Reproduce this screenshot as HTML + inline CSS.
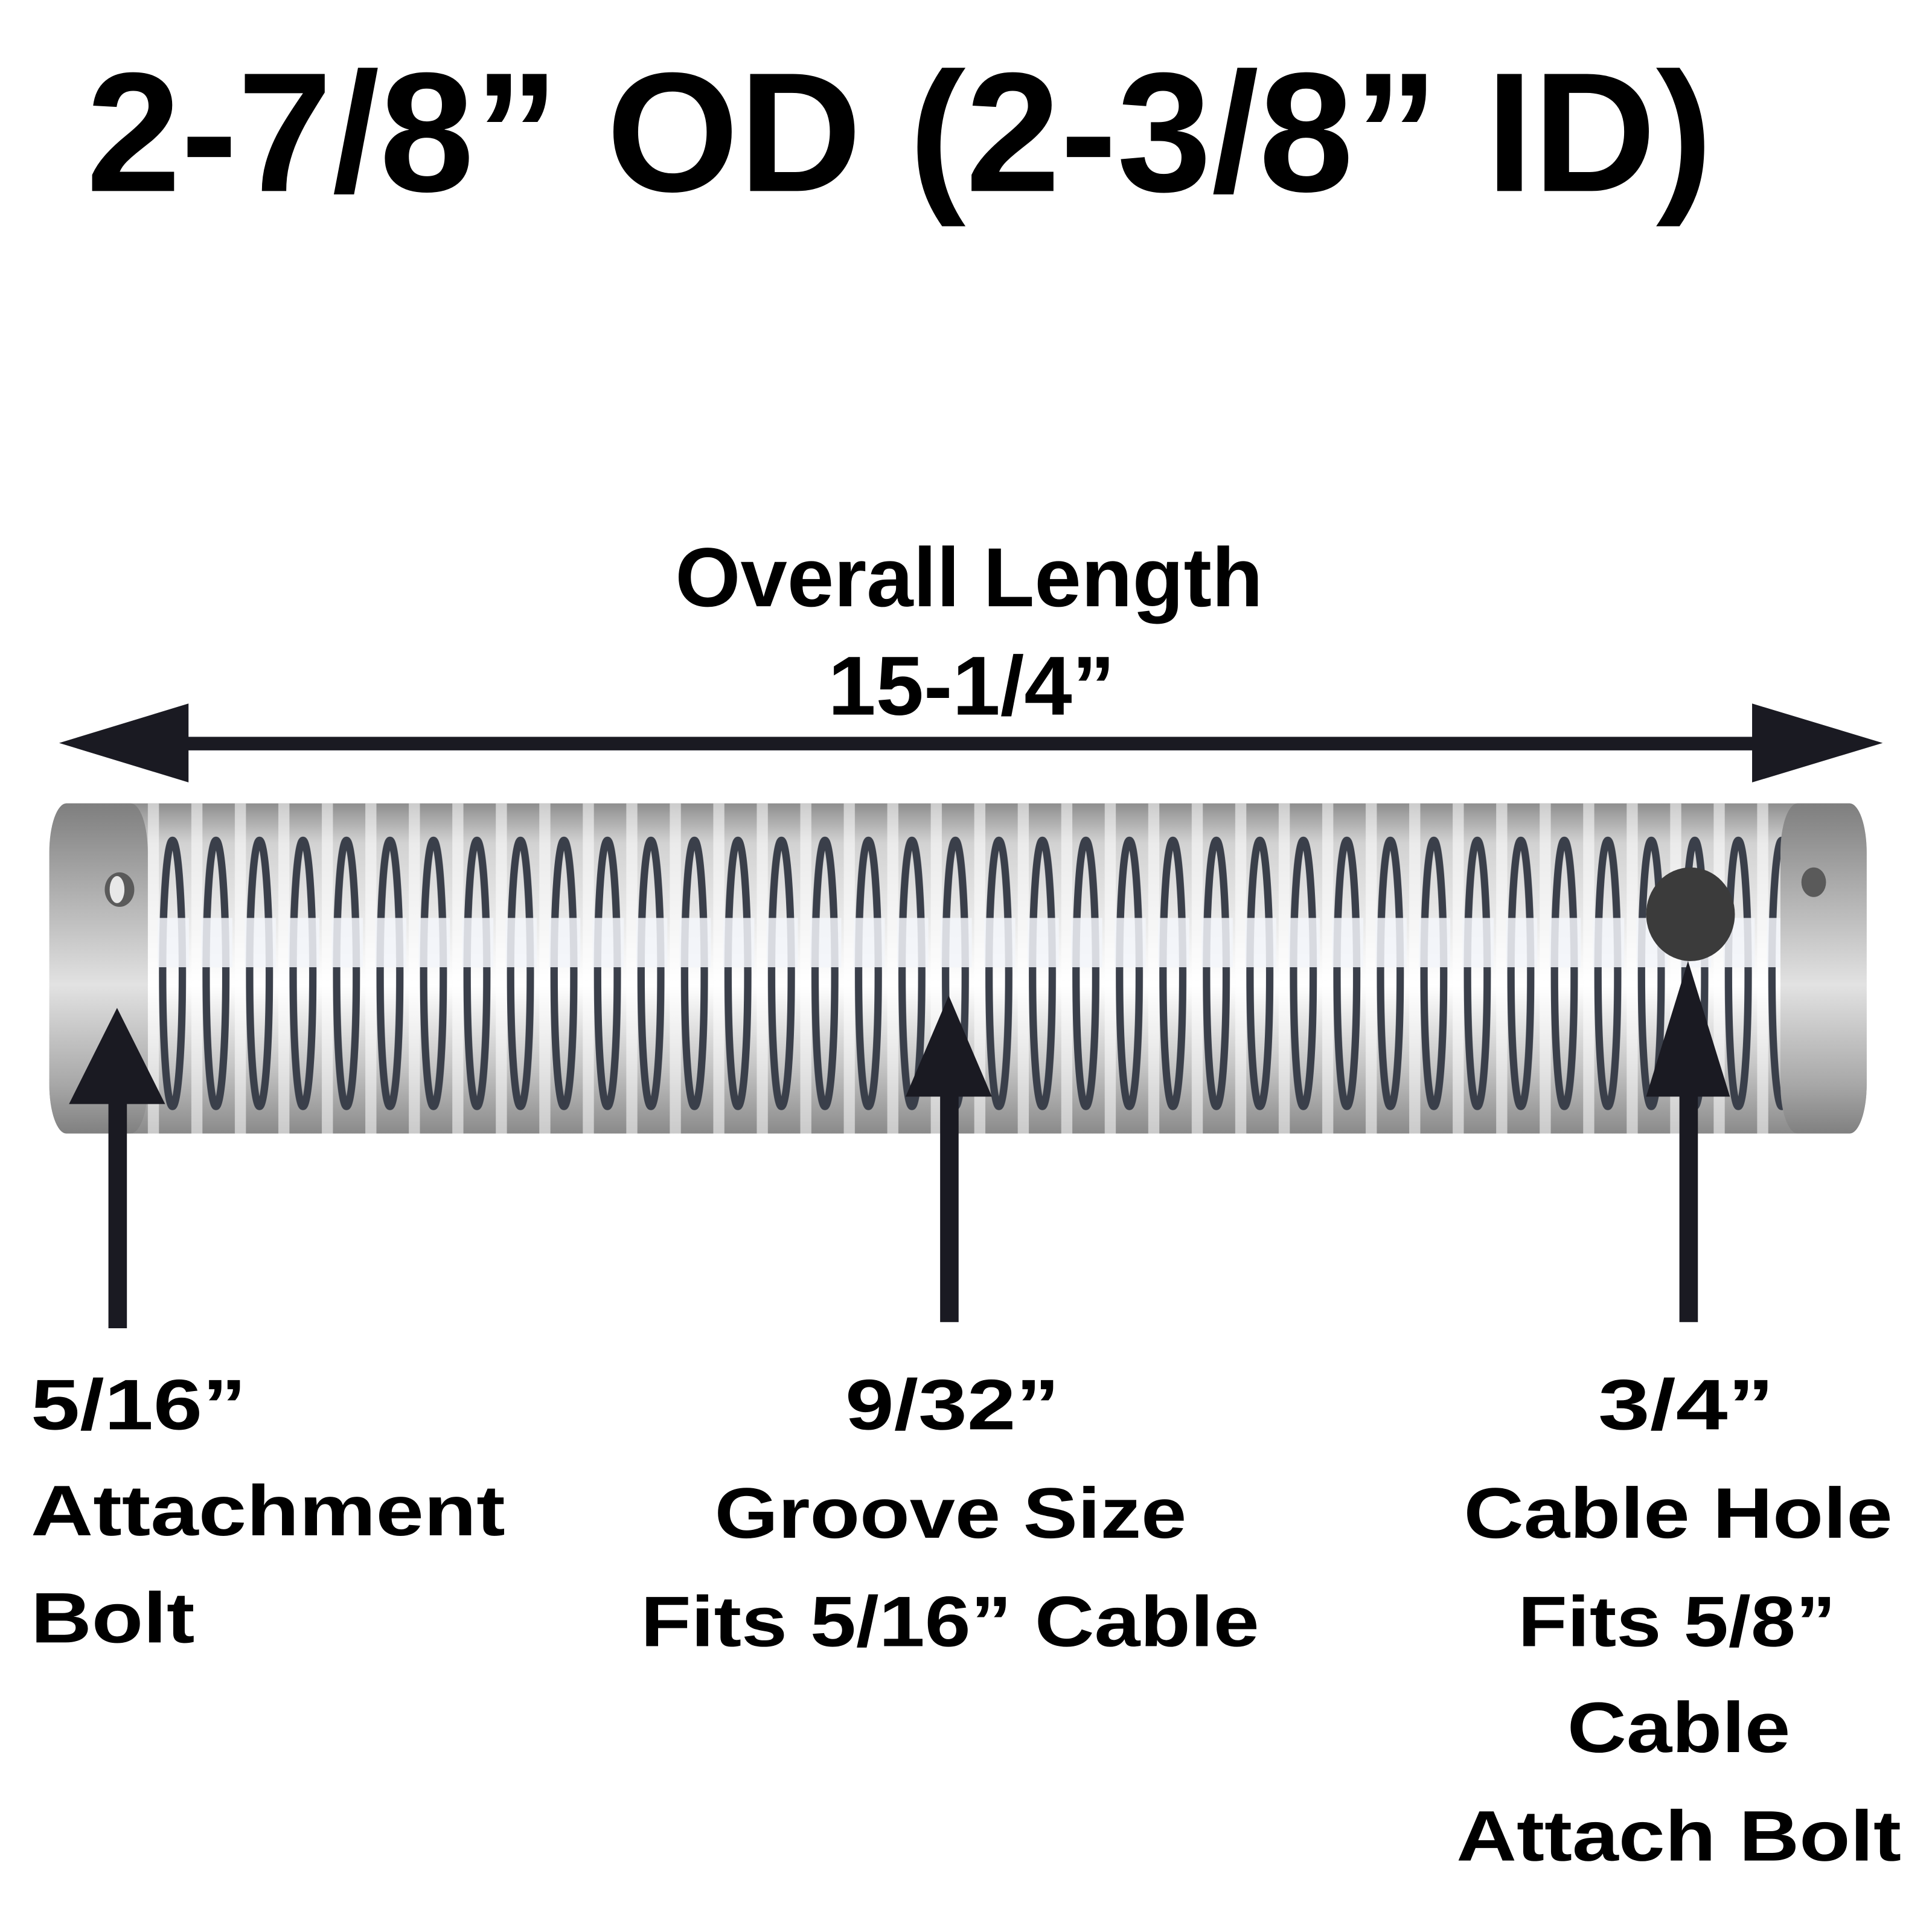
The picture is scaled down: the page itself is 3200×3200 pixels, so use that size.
<!DOCTYPE html>
<html><head><style>
html,body{margin:0;padding:0;background:#fff;}
svg{display:block;}
text{font-family:"Liberation Sans",sans-serif;font-weight:bold;fill:#000;}
</style></head><body>
<svg width="3200" height="3200" viewBox="0 0 1568 1568" xmlns="http://www.w3.org/2000/svg">
<defs>
<linearGradient id="tg" x1="0" y1="0" x2="0" y2="1">
<stop offset="0" stop-color="#8e8e8e"/>
<stop offset="0.12" stop-color="#d2d2d2"/>
<stop offset="0.4" stop-color="#eeeeee"/>
<stop offset="0.55" stop-color="#ffffff"/>
<stop offset="0.8" stop-color="#c4c4c4"/>
<stop offset="1" stop-color="#8a8a8a"/>
</linearGradient>
<linearGradient id="eg" x1="0" y1="0" x2="0" y2="1">
<stop offset="0" stop-color="#7e7e7e"/>
<stop offset="0.3" stop-color="#b5b5b5"/>
<stop offset="0.55" stop-color="#e2e2e2"/>
<stop offset="0.85" stop-color="#a8a8a8"/>
<stop offset="1" stop-color="#808080"/>
</linearGradient>
<pattern id="gp" patternUnits="userSpaceOnUse" x="118" y="0" width="35.3" height="1568">
<rect x="0" y="0" width="35.3" height="1568" fill="none"/>
<rect x="2" y="652" width="9" height="268" fill="#ffffff" opacity="0.55"/>
<ellipse cx="22" cy="790" rx="8" ry="108" fill="none" stroke="#3a3f4a" stroke-width="6"/>
<rect x="10" y="745" width="26" height="40" fill="#f4f6fa" opacity="0.85"/>
</pattern>
</defs>

<text x="70" y="155" font-size="138" textLength="1320" lengthAdjust="spacingAndGlyphs">2-7/8” OD (2-3/8” ID)</text>

<text x="548" y="492" font-size="68" textLength="477" lengthAdjust="spacingAndGlyphs">Overall Length</text>
<text x="672" y="580" font-size="68" textLength="233" lengthAdjust="spacingAndGlyphs">15-1/4”</text>

<rect x="150" y="598" width="1275" height="11" fill="#1a1a22"/>
<polygon points="48,603 153,571 153,635" fill="#1a1a22"/>
<polygon points="1528,603 1422,571 1422,635" fill="#1a1a22"/>

<!-- tube -->
<rect x="40" y="652" width="1475" height="268" rx="14" ry="40" fill="url(#tg)"/>
<rect x="118" y="652" width="1330" height="268" fill="url(#gp)"/>
<rect x="40" y="652" width="80" height="268" rx="14" ry="40" fill="url(#eg)"/>
<rect x="1445" y="652" width="70" height="268" rx="14" ry="40" fill="url(#eg)"/>
<ellipse cx="97" cy="722" rx="12" ry="14" fill="#5a5a5a"/>
<ellipse cx="95" cy="722" rx="6" ry="11" fill="#e8e8e8"/>
<ellipse cx="1472" cy="716" rx="10" ry="12" fill="#5a5a5a"/>
<ellipse cx="1372" cy="742" rx="36" ry="38" fill="#3b3b3b"/>

<!-- up arrows -->
<rect x="88" y="895" width="15" height="183" fill="#1a1a22"/>
<polygon points="95,818 56,896 134,896" fill="#1a1a22"/>
<rect x="763" y="885" width="15" height="188" fill="#1a1a22"/>
<polygon points="770,808 735,890 805,890" fill="#1a1a22"/>
<rect x="1363" y="885" width="15" height="188" fill="#1a1a22"/>
<polygon points="1370,780 1336,890 1404,890" fill="#1a1a22"/>

<!-- labels -->
<g font-size="58">
<text x="25" y="1160" textLength="175" lengthAdjust="spacingAndGlyphs">5/16”</text>
<text x="25" y="1246" textLength="385" lengthAdjust="spacingAndGlyphs">Attachment</text>
<text x="25" y="1333" textLength="133" lengthAdjust="spacingAndGlyphs">Bolt</text>

<text x="686" y="1160" textLength="174" lengthAdjust="spacingAndGlyphs">9/32”</text>
<text x="580" y="1248" textLength="383" lengthAdjust="spacingAndGlyphs">Groove Size</text>
<text x="520" y="1336" textLength="502" lengthAdjust="spacingAndGlyphs">Fits 5/16” Cable</text>

<text x="1297" y="1160" textLength="143" lengthAdjust="spacingAndGlyphs">3/4”</text>
<text x="1188" y="1248" textLength="348" lengthAdjust="spacingAndGlyphs">Cable Hole</text>
<text x="1232" y="1336" textLength="258" lengthAdjust="spacingAndGlyphs">Fits 5/8”</text>
<text x="1272" y="1422" textLength="181" lengthAdjust="spacingAndGlyphs">Cable</text>
<text x="1182" y="1510" textLength="361" lengthAdjust="spacingAndGlyphs">Attach Bolt</text>
</g>
</svg>
</body></html>
